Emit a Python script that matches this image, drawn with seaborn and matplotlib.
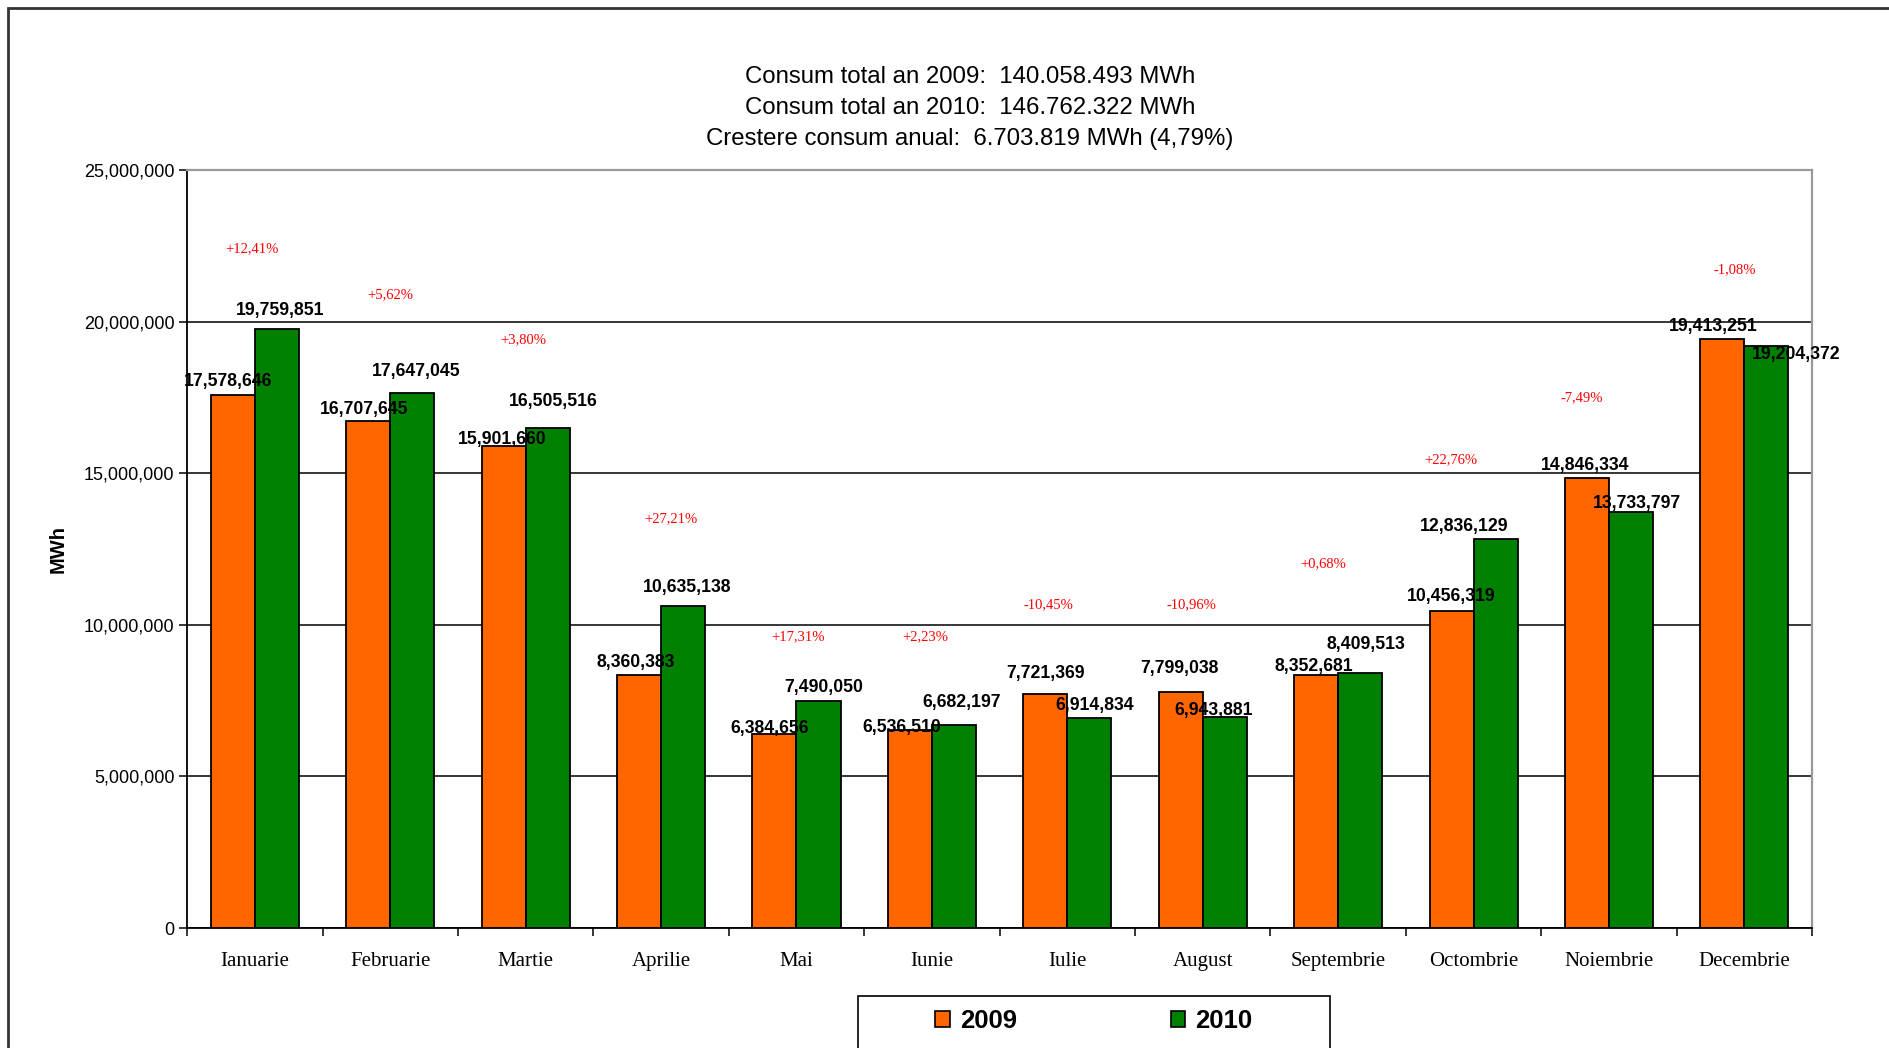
import seaborn as sns
import pandas as pd
import matplotlib.pyplot as plt
from matplotlib.patches import Rectangle, Patch
from matplotlib.ticker import FuncFormatter, FixedLocator


# Data
months = ['Ianuarie', 'Februarie', 'Martie', 'Aprilie', 'Mai', 'Iunie',
          'Iulie', 'August', 'Septembrie', 'Octombrie', 'Noiembrie', 'Decembrie']
consum_2009 = [17578646, 16707645, 15901660, 8360383, 6384656, 6536510,
               7721369, 7799038, 8352681, 10456319, 14846334, 19413251]
consum_2010 = [19759851, 17647045, 16505516, 10635138, 7490050, 6682197,
               6914834, 6943881, 8409513, 12836129, 13733797, 19204372]
variatie = ['+12,41%', '+5,62%', '+3,80%', '+27,21%', '+17,31%', '+2,23%',
            '-10,45%', '-10,96%', '+0,68%', '+22,76%', '-7,49%', '-1,08%']
title_lines = ['Consum total an 2009:  140.058.493 MWh',
               'Consum total an 2010:  146.762.322 MWh',
               'Crestere consum anual:  6.703.819 MWh (4,79%)']

# where the red percentage notes sit (category units, MWh)
pct_x = [-0.02, 1.0, 1.98, 3.07, 4.01, 4.95, 5.86, 6.92, 7.89, 8.83, 9.80, 10.93]
pct_y = [22.4e6, 20.9e6, 19.4e6, 13.5e6, 9.6e6, 9.6e6,
         10.65e6, 10.65e6, 12.0e6, 15.45e6, 17.5e6, 21.7e6]
# value label offsets in points (dx, dy)
off_2009 = [(-3.5, 9.5), (-2.6, 8.7), (-0.9, 4.3), (-2.6, 8.7), (-3.5, 4.3), (-6.1, 1.7),
            (0, 14.8), (-0.9, 16.5), (-1.7, 6.1), (0, 10.4), (-1.7, 8.7), (-6.9, 9.5)]
off_2010 = [(2.6, 13), (2.6, 15.6), (4.3, 19.1), (2.6, 13), (3.5, 9.5), (5.2, 16.5),
            (3.5, 9.5), (-7.8, 5.2), (4.3, 20.8), (-22.6, 8.7), (4.3, 6.1), (21.7, -6.1)]

df = pd.DataFrame({
    'Luna': months * 2,
    'An': ['2009'] * 12 + ['2010'] * 12,
    'MWh': consum_2009 + consum_2010,
})

sns.set_style('white')
plt.rcParams['font.family'] = ['Liberation Sans', 'DejaVu Sans']
plt.rcParams['text.color'] = 'black'
plt.rcParams['axes.labelcolor'] = 'black'
plt.rcParams['xtick.color'] = 'black'
plt.rcParams['ytick.color'] = 'black'

fig = plt.figure(figsize=(18.9, 10.48), dpi=100)
ax = fig.add_axes([0.099, 0.1145, 0.8598, 0.7233])

colors = {'2009': '#FF6600', '2010': '#008000'}
sns.barplot(data=df, x='Luna', y='MWh', hue='An', palette=colors, width=0.65,
            edgecolor='black', linewidth=1.3, saturation=1, legend=False, ax=ax, zorder=3)

ax.set_xlim(-0.5, 11.5)
ax.set_ylim(0, 25e6)
ax.yaxis.set_major_locator(FixedLocator([0, 5e6, 10e6, 15e6, 20e6, 25e6]))
ax.yaxis.set_major_formatter(FuncFormatter(lambda v, p: f'{int(v):,}'))
ax.grid(axis='y', color='black', linewidth=1.1, zorder=0)
ax.set_axisbelow(True)

for s in ['left', 'bottom']:
    ax.spines[s].set_color('black')
    ax.spines[s].set_linewidth(1.3)
for s in ['top', 'right']:
    ax.spines[s].set_color('#999999')
    ax.spines[s].set_linewidth(1.6)

ax.tick_params(axis='y', left=True, length=6, width=1.1, pad=3, labelsize=13)
ax.set_xticks(range(12))
ax.set_xticklabels(months, family=['Liberation Serif'], fontsize=15)
ax.tick_params(axis='x', bottom=False, pad=14)
ax.set_xticks([i + 0.5 for i in range(-1, 12)], minor=True)
ax.tick_params(axis='x', which='minor', bottom=True, length=6, width=1.1, color='black')

ax.set_xlabel('')
ax.set_ylabel('MWh', fontsize=14.5, fontweight='bold', labelpad=12)

# value labels
for cont, vals, offs in [(ax.containers[0], consum_2009, off_2009),
                         (ax.containers[1], consum_2010, off_2010)]:
    for bar, v, (dx, dy) in zip(cont, vals, offs):
        ax.annotate(f'{v:,}', (bar.get_x() + bar.get_width() / 2, bar.get_height()),
                    xytext=(dx, dy), textcoords='offset points', ha='center', va='center',
                    fontsize=12.7, fontweight='bold', zorder=5)

# percentage notes
for x, y, t in zip(pct_x, pct_y, variatie):
    ax.text(x, y, t, ha='center', va='center', color='red', fontsize=10.5,
            family=['Liberation Serif'])

# title lines
for i, line in enumerate(title_lines):
    fig.text(970 / 1890, 1 - (77 + 31 * i) / 1048, line, ha='center', va='center', fontsize=17.3)

# outer chart frame
fig.patches.append(Rectangle((8 / 1890, -0.5), 2, 1.5 - 8 / 1048, transform=fig.transFigure,
                             fill=False, edgecolor='#333333', linewidth=2))

# legend box
fig.patches.append(Rectangle((858 / 1890, -0.1), (1330 - 858) / 1890, 0.1 + 1 - 996 / 1048,
                             transform=fig.transFigure, fill=False, edgecolor='black', linewidth=1.2))
handles = [Patch(facecolor=colors['2009'], edgecolor='black', linewidth=1.2),
           Patch(facecolor=colors['2010'], edgecolor='black', linewidth=1.2)]
leg = fig.legend(handles, ['2009', '2010'], loc='center', bbox_to_anchor=(1094 / 1890, 1 - 1021 / 1048),
                 ncol=2, frameon=False, handlelength=0.55, handleheight=0.55, handletextpad=0.4,
                 columnspacing=6, prop={'weight': 'bold', 'size': 18.5})

plt.savefig('out.png', dpi=100)
